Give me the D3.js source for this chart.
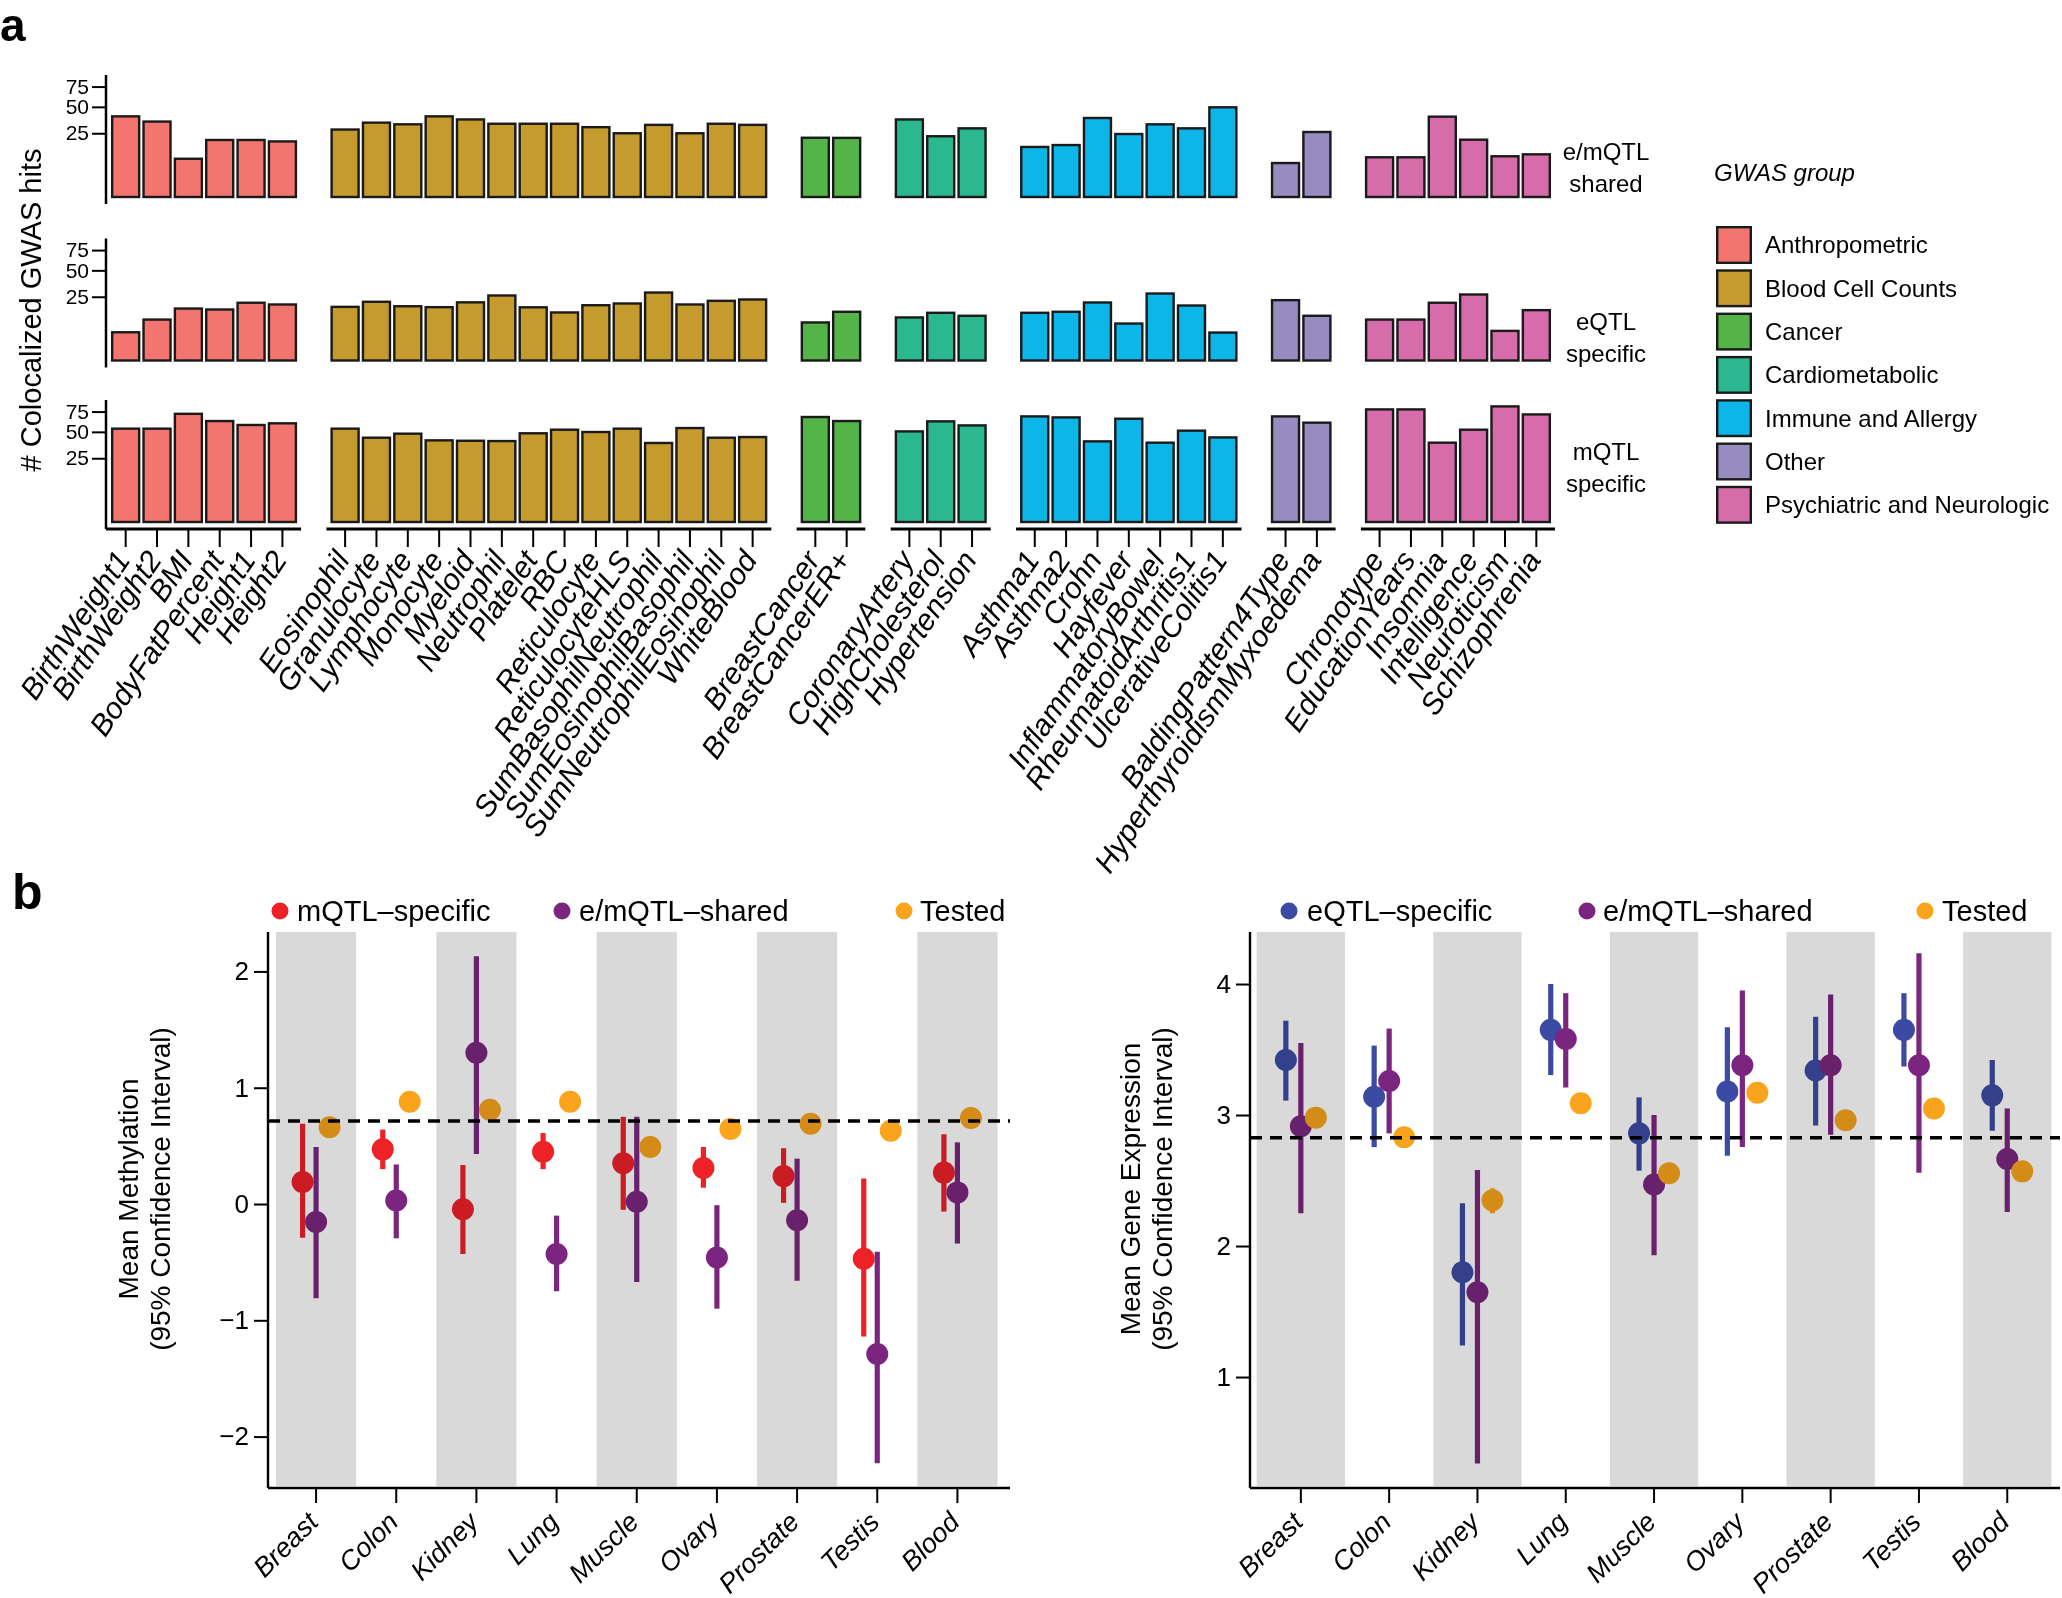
<!DOCTYPE html>
<html><head><meta charset="utf-8">
<script src="https://cdn.jsdelivr.net/npm/d3@7"></script>
<style>
body{margin:0;background:#fff;}
text{font-family:"Liberation Sans",Arial,Helvetica,sans-serif;fill:#000;}
</style></head><body>
<svg id="chart" width="2062" height="1598" xmlns="http://www.w3.org/2000/svg"></svg>
<script>
// ---------------- Panel a data ----------------
const groupNames = ["Anthropometric","Blood Cell Counts","Cancer","Cardiometabolic","Immune and Allergy","Other","Psychiatric and Neurologic"];
const groupColors = ["#F2756F","#C59B2E","#55B448","#2BB88F","#0DB6E9","#978BC0","#D66CAA"];
const traits = ["BirthWeight1","BirthWeight2","BMI","BodyFatPercent","Height1","Height2",
 "Eosinophil","Granulocyte","Lymphocyte","Monocyte","Myeloid","Neutrophil","Platelet","RBC","Reticulocyte","ReticulocyteHLS","SumBasophilNeutrophil","SumEosinophilBasophil","SumNeutrophilEosinophil","WhiteBlood",
 "BreastCancer","BreastCancerER+",
 "CoronaryArtery","HighCholesterol","Hypertension",
 "Asthma1","Asthma2","Crohn","Hayfever","InflammatoryBowel","RheumatoidArthritis1","UlcerativeColitis1",
 "BaldingPattern4Type","HyperthyroidismMyxoedema",
 "Chronotype","EducationYears","Insomnia","Intelligence","Neuroticism","Schizophrenia"];
const traitGroup = [0,0,0,0,0,0, 1,1,1,1,1,1,1,1,1,1,1,1,1,1, 2,2, 3,3,3, 4,4,4,4,4,4,4, 5,5, 6,6,6,6,6,6];
const emShared  = [40,35,9,20,20,19, 28,34,32.5,40,37,33,33,33,30,25,32,25,33,32, 21.6,21.5, 37,22.7,29, 15.4,16.6,38.4,24.4,32.5,29,49.5, 7.1,26, 9.7,9.7,39.7,20.2,10.2,11.2];
const eSpecific = [4.9,10.3,16.6,16,20.5,19.3, 17.7,21.2,18.1,17.5,20.8,26,17.4,14.2,18.8,20,28.4,19.3,21.9,22.9, 8.9,14.6, 11.4,14,12.3, 14,14.6,20.7,8.4,27.6,18.6,4.8, 22.4,12.3, 10.3,10.3,20.5,26.8,5.4,15.6];
const mSpecific = [53.6,53.6,72,62.7,57.9,59.9, 53.6,43.7,48,41,40.6,40.3,48.4,52.4,49.8,53.6,38.4,54.3,43.7,44.4, 67.8,62.7, 50.5,62.3,57.4, 68.6,67.3,40,65.6,38.7,51.3,44, 68.6,60.7, 78,78,38.7,52.4,82.2,71.2];
const rowLabels = [["e/mQTL","shared"],["eQTL","specific"],["mQTL","specific"]];
const yTicksA = [25,50,75];

// ---------------- Panel b data ----------------
const tissues = ["Breast","Colon","Kidney","Lung","Muscle","Ovary","Prostate","Testis","Blood"];
// methylation
const mqtlSpecMean = [0.19,0.47,-0.045,0.45,0.35,0.31,0.24,-0.47,0.27];
const mqtlSpecLo   = [-0.29,0.30,-0.43,0.30,-0.05,0.14,0.01,-1.14,-0.065];
const mqtlSpecHi   = [0.69,0.64,0.335,0.61,0.75,0.49,0.48,0.22,0.60];
const sharedMethMean = [-0.155,0.03,1.30,-0.43,0.02,-0.46,-0.14,-1.29,0.10];
const sharedMethLo   = [-0.81,-0.295,0.43,-0.75,-0.67,-0.90,-0.66,-2.23,-0.34];
const sharedMethHi   = [0.49,0.34,2.13,-0.10,0.75,-0.01,0.39,-0.41,0.53];
const testedMeth     = [0.66,0.88,0.81,0.88,0.49,0.645,0.69,0.63,0.74];
const methReference = 0.714;
const methTicks = [-2,-1,0,1,2];
// expression
const eqtlSpecMean = [3.42,3.14,1.80,3.65,2.86,3.18,3.34,3.65,3.15];
const eqtlSpecLo   = [3.11,2.755,1.24,3.305,2.575,2.69,2.92,3.37,2.88];
const eqtlSpecHi   = [3.72,3.53,2.326,4.0,3.135,3.67,3.75,3.93,3.42];
const sharedExprMean = [2.915,3.26,1.647,3.58,2.47,3.38,3.38,3.38,2.665];
const sharedExprLo   = [2.25,2.86,0.34,3.21,1.93,2.755,2.85,2.56,2.26];
const sharedExprHi   = [3.55,3.66,2.58,3.93,3.0,3.95,3.92,4.235,3.05];
const testedExpr     = [2.98,2.83,2.35,3.09,2.555,3.17,2.96,3.05,2.57];
const testedExprLo   = [2.96,2.81,2.25,3.07,2.535,3.15,2.94,3.03,2.55];
const testedExprHi   = [3.00,2.85,2.44,3.11,2.575,3.19,2.98,3.07,2.59];
const exprReference = 2.827;
const exprTicks = [1,2,3,4];

const RED="#EE2127", PURPLE="#7B2580", BLUE="#3B4BA3", ORANGE="#F9A41C";

const svg = d3.select("#chart");

// ================= PANEL A =================
svg.append("text").attr("x",0).attr("y",41).attr("font-size",46).attr("font-weight","bold").text("a");

const slots = [];
traits.forEach((t,i)=>{ if(i>0 && traitGroup[i]!==traitGroup[i-1]) slots.push("gap"+i); slots.push(t); });
const xA = d3.scaleBand().domain(slots).range([110,1552]).paddingInner(0.139).paddingOuter(0.0695);
const rowBase = [197,360.5,522];
const rowLabelY = [152,322,452];
const rowValues = [emShared,eSpecific,mSpecific];
const axisXA = 106;

rowValues.forEach((vals,r)=>{
  const B = rowBase[r];
  const y = d3.scaleSqrt().domain([0,90]).range([B,B-12.75*Math.sqrt(90)]);
  const g = svg.append("g");
  g.selectAll("rect").data(traits).join("rect")
    .attr("x",d=>xA(d)).attr("width",xA.bandwidth())
    .attr("y",(d,i)=>y(vals[i])).attr("height",(d,i)=>B-y(vals[i]))
    .attr("fill",(d,i)=>groupColors[traitGroup[i]])
    .attr("stroke","#1a1a1a").attr("stroke-width",2.4);
  const ax = svg.append("g").attr("transform",`translate(${axisXA},0)`)
    .call(d3.axisLeft(y).tickValues(yTicksA).tickSize(14).tickPadding(3));
  ax.select(".domain").remove();
  ax.selectAll(".tick line").attr("stroke","#000").attr("stroke-width",2);
  ax.selectAll(".tick text").attr("font-size",21).attr("font-family","Liberation Sans, Arial, sans-serif").attr("fill","#000");
  svg.append("line").attr("x1",axisXA).attr("x2",axisXA).attr("y1",B-122).attr("y2",B+7)
    .attr("stroke","#000").attr("stroke-width",2.5);
  // row label
  const lbl = svg.append("text").attr("text-anchor","middle").attr("font-size",24);
  lbl.append("tspan").attr("x",1606).attr("y",rowLabelY[r]+8.4).text(rowLabels[r][0]);
  lbl.append("tspan").attr("x",1606).attr("y",rowLabelY[r]+32+8.4).text(rowLabels[r][1]);
});

// group axis segments
const xAxisY = rowBase[2]+7;
groupNames.forEach((gname,gi)=>{
  const members = traits.filter((t,i)=>traitGroup[i]===gi);
  const x0 = gi===0 ? axisXA : xA(members[0]) - 5.2;
  const x1 = xA(members[members.length-1]) + xA.bandwidth() + 5.2;
  svg.append("line").attr("x1",x0).attr("x2",x1).attr("y1",xAxisY).attr("y2",xAxisY)
    .attr("stroke","#000").attr("stroke-width",2.8);
});
const tickG = svg.append("g");
tickG.selectAll("line").data(traits).join("line")
  .attr("x1",d=>xA(d)+xA.bandwidth()/2).attr("x2",d=>xA(d)+xA.bandwidth()/2)
  .attr("y1",xAxisY).attr("y2",xAxisY+18).attr("stroke","#000").attr("stroke-width",2);
tickG.selectAll("text").data(traits).join("text")
  .attr("transform",d=>`translate(${xA(d)+xA.bandwidth()/2-3},${xAxisY+25}) rotate(-56)`)
  .attr("text-anchor","end").attr("dy","0.35em").attr("font-size",30).attr("font-style","italic")
  .text(d=>d);

// y title
svg.append("text").attr("transform","translate(31,310) rotate(-90)").attr("text-anchor","middle")
  .attr("dy","0.35em").attr("font-size",29).text("# Colocalized GWAS hits");

// legend
svg.append("text").attr("x",1714).attr("y",173+8.4).attr("font-size",24).attr("font-style","italic").text("GWAS group");
const leg = svg.append("g");
leg.selectAll("rect").data(groupNames).join("rect")
  .attr("x",1717.2).attr("y",(d,i)=>227.2+i*43.3).attr("width",33.6).attr("height",35.6)
  .attr("fill",(d,i)=>groupColors[i]).attr("stroke","#1a1a1a").attr("stroke-width",2.4);
leg.selectAll("text").data(groupNames).join("text")
  .attr("x",1765).attr("y",(d,i)=>245+i*43.3).attr("dy","0.35em").attr("font-size",24).text(d=>d);

// ================= PANEL B =================
svg.append("text").attr("x",12).attr("y",909).attr("font-size",50).attr("font-weight","bold").text("b");

function dotPlot(cfg){
  const {xRange, yDomain, axisX, axisRight, ticks, series, ref, title, legend, offset} = cfg;
  const top=932, bottom=1488;
  const x = d3.scaleBand().domain(tissues).range(xRange);
  const y = d3.scaleLinear().domain(yDomain).range([bottom,top]);
  const g = svg.append("g");
  // points & CIs
  series.forEach((s,si)=>{
    const sg = g.append("g");
    const dx = (si-1)*offset;
    if(s.lo){
      sg.selectAll("line").data(tissues).join("line")
        .attr("x1",d=>x(d)+x.bandwidth()/2+dx).attr("x2",d=>x(d)+x.bandwidth()/2+dx)
        .attr("y1",(d,i)=>y(s.lo[i])).attr("y2",(d,i)=>y(s.hi[i]))
        .attr("stroke",s.color).attr("stroke-width",5.2);
    }
    sg.selectAll("circle").data(tissues).join("circle")
      .attr("cx",d=>x(d)+x.bandwidth()/2+dx).attr("cy",(d,i)=>y(s.mean[i])).attr("r",11)
      .attr("fill",s.color);
  });
  // grey bands (multiply over points)
  g.append("g").style("mix-blend-mode","multiply").selectAll("rect")
    .data(tissues.filter((d,i)=>i%2===0)).join("rect")
    .attr("x",d=>x(d)).attr("width",x.bandwidth()).attr("y",top).attr("height",bottom-2-top)
    .attr("fill","#D9D9D9");
  // reference dashed line
  g.append("line").attr("x1",axisX).attr("x2",axisRight).attr("y1",y(ref)).attr("y2",y(ref))
    .attr("stroke","#000").attr("stroke-width",3.5).attr("stroke-dasharray","12,8");
  // y axis
  const ay = svg.append("g").attr("transform",`translate(${axisX},0)`)
    .call(d3.axisLeft(y).tickValues(ticks).tickSize(14).tickPadding(5).tickFormat(d3.format("d")));
  ay.select(".domain").remove();
  ay.selectAll(".tick line").attr("stroke","#000").attr("stroke-width",2);
  ay.selectAll(".tick text").attr("font-size",26).attr("font-family","Liberation Sans, Arial, sans-serif").attr("fill","#000");
  svg.append("line").attr("x1",axisX).attr("x2",axisX).attr("y1",top).attr("y2",bottom).attr("stroke","#000").attr("stroke-width",2.4);
  // x axis
  svg.append("line").attr("x1",axisX).attr("x2",axisRight).attr("y1",bottom).attr("y2",bottom).attr("stroke","#000").attr("stroke-width",2.4);
  const ax = svg.append("g");
  ax.selectAll("line").data(tissues).join("line")
    .attr("x1",d=>x(d)+x.bandwidth()/2).attr("x2",d=>x(d)+x.bandwidth()/2)
    .attr("y1",bottom).attr("y2",bottom+15).attr("stroke","#000").attr("stroke-width",2);
  ax.selectAll("text").data(tissues).join("text")
    .attr("transform",d=>`translate(${x(d)+x.bandwidth()/2-3},${bottom+29}) rotate(-45)`)
    .attr("text-anchor","end").attr("dy","0.35em").attr("font-size",27).attr("font-style","italic").text(d=>d);
  // y title
  svg.append("text").attr("transform",`translate(${title.x1},1189) rotate(-90)`).attr("text-anchor","middle")
    .attr("dy","0.35em").attr("font-size",28).text(title.l1);
  svg.append("text").attr("transform",`translate(${title.x2},1189) rotate(-90)`).attr("text-anchor","middle")
    .attr("dy","0.35em").attr("font-size",28).text(title.l2);
  // legend
  legend.forEach(l=>{
    svg.append("circle").attr("cx",l.dx).attr("cy",911).attr("r",8.5).attr("fill",l.color);
    svg.append("text").attr("x",l.tx).attr("y",911).attr("dy","0.35em").attr("font-size",29).text(l.label);
  });
}

dotPlot({
  xRange:[276,997.5], yDomain:[-2.442,2.339], axisX:268, axisRight:1010, ticks:methTicks, offset:13.5,
  series:[
    {mean:mqtlSpecMean, lo:mqtlSpecLo, hi:mqtlSpecHi, color:RED},
    {mean:sharedMethMean, lo:sharedMethLo, hi:sharedMethHi, color:PURPLE},
    {mean:testedMeth, color:ORANGE}],
  ref:methReference,
  title:{x1:128,x2:160,l1:"Mean Methylation",l2:"(95% Confidence Interval)"},
  legend:[{dx:280,tx:297,color:RED,label:"mQTL\u2013specific"},
          {dx:562,tx:579,color:PURPLE,label:"e/mQTL\u2013shared"},
          {dx:904,tx:920,color:ORANGE,label:"Tested"}]
});

dotPlot({
  xRange:[1256.7,2051.4], yDomain:[0.153,4.397], axisX:1250, axisRight:2060, ticks:exprTicks, offset:15,
  series:[
    {mean:eqtlSpecMean, lo:eqtlSpecLo, hi:eqtlSpecHi, color:BLUE},
    {mean:sharedExprMean, lo:sharedExprLo, hi:sharedExprHi, color:PURPLE},
    {mean:testedExpr, lo:testedExprLo, hi:testedExprHi, color:ORANGE}],
  ref:exprReference,
  title:{x1:1130,x2:1162,l1:"Mean Gene Expression",l2:"(95% Confidence Interval)"},
  legend:[{dx:1289,tx:1307,color:BLUE,label:"eQTL\u2013specific"},
          {dx:1587,tx:1603,color:PURPLE,label:"e/mQTL\u2013shared"},
          {dx:1925,tx:1942,color:ORANGE,label:"Tested"}]
});
</script>
</body></html>
